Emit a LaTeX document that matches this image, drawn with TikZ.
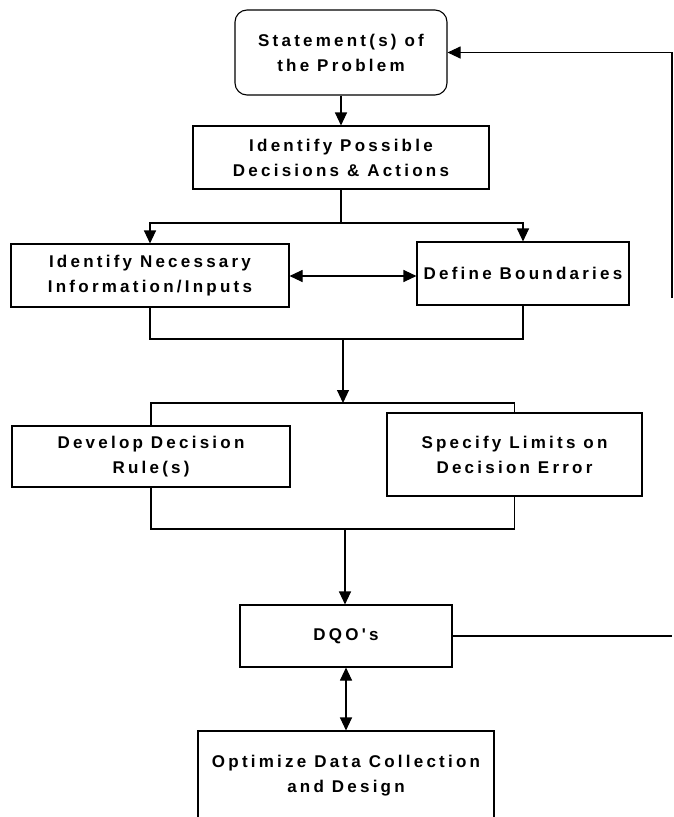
\documentclass[tikz,border=0pt]{standalone}
\usepackage{fontspec}
\setmainfont{Liberation Sans}
\newfontfamily\boxfont{Liberation Sans}[LetterSpace=19]
\usetikzlibrary{arrows.meta}
\begin{document}
\begin{tikzpicture}[x=1pt,y=-1pt,
  line width=1.1pt,
  boxstyle/.style={draw, rectangle, align=center, inner sep=0pt,
    font=\boxfont\bfseries\fontsize{17}{25}\selectfont},
  tip/.style={-{Triangle[length=13pt,width=12pt]}},
  dtip/.style={{Triangle[length=13pt,width=12pt]}-{Triangle[length=13pt,width=12pt]}}]
\useasboundingbox (0,0) rectangle (673,817);
\node[boxstyle, rounded corners=12pt, minimum width=212pt, minimum height=85pt] (stmt) at (341,52.5) {Statement(s) of\\the Problem};
\node[boxstyle, minimum width=296pt, minimum height=63pt] (poss) at (341,157.5) {Identify Possible\\Decisions \& Actions};
\node[boxstyle, minimum width=278pt, minimum height=63pt] (nec) at (150,275.5) {Identify Necessary\\Information/Inputs};
\node[boxstyle, minimum width=212pt, minimum height=63pt] (bnd) at (523,273.5) {Define Boundaries};
\node[boxstyle, minimum width=278pt, minimum height=61pt] (rule) at (151,456.5) {Develop Decision\\Rule(s)};
\node[boxstyle, minimum width=255pt, minimum height=83pt] (lim) at (514.5,454.5) {Specify Limits on\\Decision Error};
\node[boxstyle, minimum width=212pt, minimum height=62pt] (dqo) at (346,636) {DQO's};
\node[boxstyle, minimum width=296pt, minimum height=90pt] (opt) at (346,776) {Optimize Data Collection\\and Design};
\coordinate (split) at (341,223);
\coordinate (join1) at (343,339);
\coordinate (split2) at (343,403);
\coordinate (join2) at (345,529);
\coordinate (fb1) at (672,636);
\coordinate (fb2) at (672,298);
\coordinate (fb3) at (672,52.5);
\draw[tip] (stmt) -- (poss);
\draw (poss.south) -- (split);
\draw[tip] (split) -| (nec.north);
\draw[tip] (split) -| (bnd.north);
\draw[dtip] (nec.east |- 0,276) -- (bnd.west |- 0,276);
\draw (nec.south) |- (join1) -| (bnd.south);
\draw[tip] (join1) -- (split2);
\draw (rule.north) |- (split2) -| (lim.north);
\draw (rule.south) |- (join2) -| (lim.south);
\draw[tip] (join2) -- (join2 |- dqo.north);
\draw[dtip] (dqo.south) -- (opt.north);
\draw (dqo.east) -- (fb1);
\draw[tip] (fb2) -- (fb3) -- (stmt.east);
\end{tikzpicture}
\end{document}
